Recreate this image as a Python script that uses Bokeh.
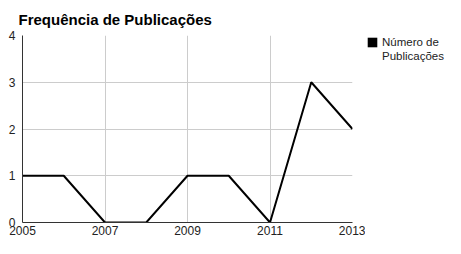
from bokeh.plotting import figure
from bokeh.layouts import row
from bokeh.models import Legend, LegendItem, FixedTicker, Range1d
from bokeh.embed import file_html
from bokeh.resources import INLINE

years = [2005, 2006, 2007, 2008, 2009, 2010, 2011, 2012, 2013]
counts = [1, 1, 0, 0, 1, 1, 0, 3, 2]
x_ticks = [2005, 2007, 2009, 2011, 2013]
y_ticks = [0, 1, 2, 3, 4]
series_name_lines = ["Número de", "Publicações"]
title_text = "Frequência de Publicações"

FONT = "Liberation Sans"
H = 238

p = figure(width=365, height=H, output_backend="svg", toolbar_location=None,
           x_range=Range1d(2005, 2013), y_range=Range1d(0, 4),
           min_border_left=22, min_border_right=13, min_border_top=34, min_border_bottom=16)

p.title.text = title_text
p.title.text_font = FONT
p.title.text_font_size = "15px"
p.title.text_font_style = "bold"
p.title.text_color = "#000000"
p.title.offset = -4
p.title.standoff = 16

line = p.line(years, counts, line_color="black", line_width=2)

p.outline_line_color = None
p.background_fill_color = "white"
p.border_fill_color = "white"

p.xaxis.ticker = FixedTicker(ticks=x_ticks)
p.yaxis.ticker = FixedTicker(ticks=y_ticks)
for ax in (p.xaxis[0], p.yaxis[0]):
    ax.major_tick_out = 0
    ax.major_tick_in = 0
    ax.minor_tick_out = 0
    ax.minor_tick_in = 0
    ax.major_tick_line_color = None
    ax.minor_tick_line_color = None
    ax.axis_line_color = "#333333"
    ax.axis_line_width = 1
    ax.major_label_text_font = FONT
    ax.major_label_text_font_size = "12px"
    ax.major_label_text_color = "#222222"
p.xaxis.major_label_standoff = 3
p.yaxis.major_label_standoff = 7

p.xgrid.ticker = FixedTicker(ticks=x_ticks)
p.ygrid.ticker = FixedTicker(ticks=y_ticks)
p.xgrid.grid_line_color = "#cccccc"
p.ygrid.grid_line_color = "#cccccc"

# legend panel: a small axis-less figure holding the legend
p2 = figure(width=80, height=H, output_backend="svg", toolbar_location=None,
            x_range=Range1d(2005, 2013), y_range=Range1d(0, 4),
            x_axis_type=None, y_axis_type=None,
            min_border_left=1, min_border_right=0, min_border_top=32, min_border_bottom=16)
p2.outline_line_color = None
p2.grid.visible = False
p2.background_fill_color = "white"
p2.border_fill_color = "white"
# legend swatch: zero-width bars on the series (invisible, filled square in the legend)
swatch = p2.vbar(x=years, top=counts, width=0, fill_color="black", line_color=None)
blank = p2.vbar(x=years, top=counts, width=0, fill_alpha=0, line_color=None)

legend = Legend(items=[LegendItem(label=series_name_lines[0], renderers=[swatch]),
                       LegendItem(label=series_name_lines[1], renderers=[blank])],
                location="top_left", margin=0, padding=0, spacing=0,
                label_text_font=FONT, label_text_font_size="11.5px", label_text_color="#222222",
                label_height=14, glyph_width=12, glyph_height=12, label_standoff=4,
                border_line_color=None, background_fill_alpha=0)
p2.add_layout(legend, "center")

layout = row(p, p2)
open("out.html", "w").write(file_html(layout, INLINE))
